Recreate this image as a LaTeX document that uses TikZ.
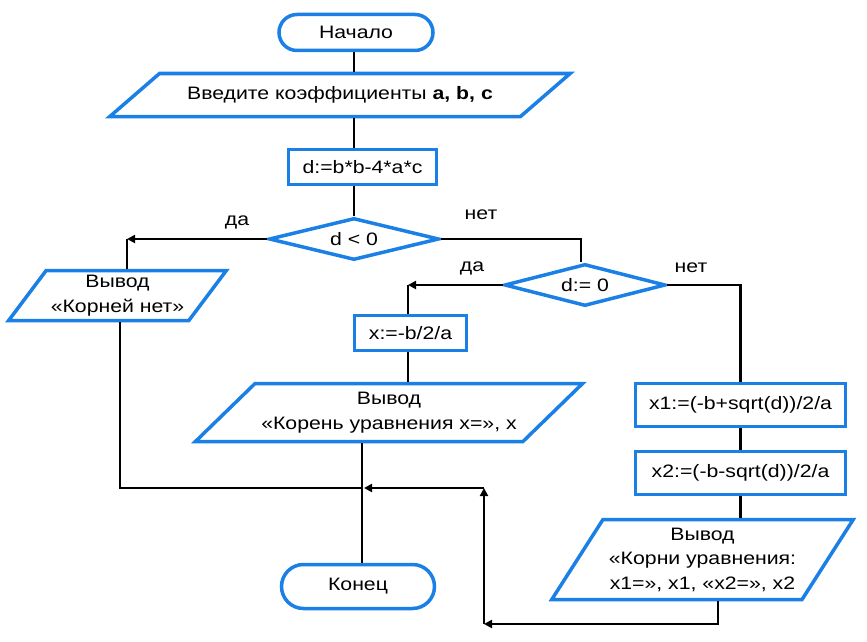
\documentclass[tikz,border=0pt]{standalone}
\usepackage{fontspec}
\setmainfont[FakeStretch=1.18]{Liberation Sans}
\usepackage{tikz}
\usetikzlibrary{shapes, arrows.meta}
\definecolor{flowblue}{RGB}{26,128,230}
\tikzstyle{base} = [draw=flowblue, line width=3.5pt, fill=white, inner sep=2pt, align=center,
font=\fontsize{18}{24.5}\selectfont]
\tikzstyle{term} = [base, rounded rectangle]
\tikzstyle{block} = [base, rectangle]
\tikzstyle{decision} = [base, diamond, aspect=4, inner sep=0pt]
\tikzstyle{io} = [base, trapezium, trapezium stretches=true]
\tikzstyle{line} = [draw, line width=2.8pt]
\tikzstyle{arrline} = [line, -{Triangle[length=8pt,width=8pt]}]
\tikzstyle{lbl} = [font=\fontsize{18}{22}\selectfont]

\begin{document}
\begin{tikzpicture}[x=1pt, y=-1pt]
	\useasboundingbox (0,0) rectangle (867,642);
	
	% Place nodes
	\node [term, minimum width=158pt, minimum height=36pt]		(nach)		at (356,32.5)	{Начало};
	\node [io, minimum width=463pt, minimum height=43pt,
		trapezium left angle=26, trapezium right angle=154]		(inp)		at (340,95)		{Введите коэффициенты \textbf{a, b, c}};
	\node [block, minimum width=148pt, minimum height=35pt]		(calc)		at (362.5,167)	{d:=b*b-4*a*c};
	\node [decision, minimum width=170pt, minimum height=42pt]	(dlt)		at (354,239)	{d < 0};
	\node [io, minimum width=218pt, minimum height=50pt,
		trapezium left angle=51, trapezium right angle=129]		(noroots)	at (117.5,295.5)	{Вывод\\«Корней нет»};
	\node [decision, minimum width=161pt, minimum height=42pt]	(dzero)		at (585,285)	{d:= 0};
	\node [block, minimum width=112pt, minimum height=35pt]		(xeq)		at (410.5,333)	{x:=-b/2/a};
	\node [io, minimum width=389pt, minimum height=58pt,
		trapezium left angle=37.7, trapezium right angle=142.3]	(outone)	at (389,412.5)	{Вывод\\«Корень уравнения x=», x};
	\node [term, minimum width=157pt, minimum height=44pt]		(kon)		at (358,586.5)	{Конец};
	\node [block, minimum width=210pt, minimum height=43pt]		(xone)		at (740.5,405)	{x1:=(-b+sqrt(d))/2/a};
	\node [block, minimum width=210pt, minimum height=43pt]		(xtwo)		at (740.5,473)	{x2:=(-b-sqrt(d))/2/a};
	\node [io, minimum width=302pt, minimum height=80pt,
		trapezium left angle=54, trapezium right angle=126]		(outtwo)	at (702.5,559.5)	{Вывод\\«Корни уравнения:\\x1=», x1, «x2=», x2};
	
	% Labels
	\node [lbl] (yesa)	at (237,222)	{да};
	\node [lbl] (noa)	at (481,215)	{нет};
	\node [lbl] (yesb)	at (472,268)	{да};
	\node [lbl] (nob)	at (691,268)	{нет};
	
	% Corners
	\coordinate (ca) at (127,239);
	\coordinate (cb) at (408,285);
	\coordinate (cc) at (120,488);
	\coordinate (cn) at (581,239);
	\coordinate (m)  at (362,488);
	\coordinate (cd) at (718,624);
	\coordinate (ce) at (484,624);
	\coordinate (cf) at (484,488);
	
	%Draw edges
	\path [line] (dlt |- nach.south)	--	(dlt |- inp.north);
	\path [line] (dlt |- inp.south)		--	(dlt |- calc.north);
	\path [line] (dlt |- calc.south)	--	(dlt.north);
	\path [arrline] (dlt.west)			--	(ca);
	\path [line] (ca)					--	(ca |- noroots.north);
	\path [line] (dlt.east)				--	(cn) -- (cn |- dzero.north);
	\path [arrline] (dzero.west)		--	(cb);
	\path [line] (cb)					--	(cb |- xeq.north);
	\path [line] (cb |- xeq.south)		--	(cb |- outone.north);
	\path [line] (m |- outone.south)	--	(m |- kon.north);
	\path [line] (cc |- noroots.south)	--	(cc) -- (m);
	\path [line] (dzero.east)			-|	(xone.north);
	\path [line] (xone)					--	(xtwo);
	\path [line] (xtwo.south)			--	(xtwo.south |- outtwo.north);
	\path [arrline] (cd |- outtwo.south) -- (cd) -- (ce);
	\path [arrline] (ce)				--	(cf);
	\path [arrline, shorten >=2pt] (cf)	--	(m);
	
\end{tikzpicture}
\end{document}
